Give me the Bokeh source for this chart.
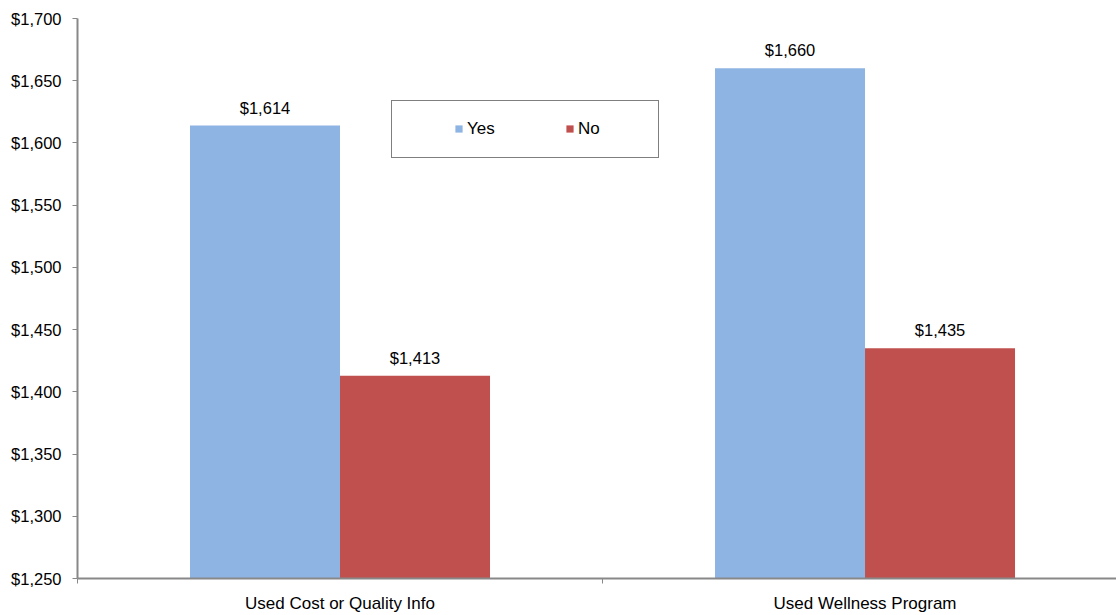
from bokeh.plotting import figure
from bokeh.models import (Range1d, FixedTicker, NumeralTickFormatter, ColumnDataSource,
                          LabelSet, Legend, LegendItem)
from bokeh.core.properties import value
from bokeh.transform import dodge
from bokeh.embed import file_html
from bokeh.resources import INLINE

# ---- data ----
categories = ["Used Cost or Quality Info", "Used Wellness Program"]
series = ["Yes", "No"]
yes_values = [1614, 1660]
no_values = [1413, 1435]
y_ticks = [1250, 1300, 1350, 1400, 1450, 1500, 1550, 1600, 1650, 1700]

# ---- style ----
BLUE = "#8EB4E3"
RED = "#C0504D"
AXIS = "#888888"
FONT = "Liberation Sans"
FS = "16.5px"
FSX = "17px"

positions = [i + 0.5 for i in range(len(categories))]
src = ColumnDataSource(dict(
    pos=positions,
    yes=yes_values,
    no=no_values,
    yes_lbl=[f"${v:,.0f}" for v in yes_values],
    no_lbl=[f"${v:,.0f}" for v in no_values],
))

p = figure(width=1116, height=615,
           x_range=Range1d(0, 1.979), y_range=Range1d(y_ticks[0], y_ticks[-1]),
           output_backend="svg", toolbar_location=None,
           min_border_left=77, min_border_right=0, min_border_top=18, min_border_bottom=36)
p.outline_line_color = None
p.xgrid.visible = False
p.ygrid.visible = False
p.background_fill_color = "white"

bw = 2 / 7
r_yes = p.vbar(x=dodge("pos", -bw / 2), top="yes", bottom=y_ticks[0], width=bw,
               source=src, fill_color=BLUE, line_color=None)
r_no = p.vbar(x=dodge("pos", bw / 2), top="no", bottom=y_ticks[0], width=bw,
              source=src, fill_color=RED, line_color=None)

for col, lbl, off in (("yes", "yes_lbl", -bw / 2), ("no", "no_lbl", bw / 2)):
    ls = LabelSet(x=dodge("pos", off), y=col, text=lbl, source=src,
                  text_align="center", text_baseline="alphabetic", y_offset=12,
                  text_font=value(FONT), text_font_size=value(FS), text_color="#000000")
    p.add_layout(ls)

# y axis
ya = p.yaxis[0]
ya.ticker = FixedTicker(ticks=y_ticks)
ya.formatter = NumeralTickFormatter(format="$0,0")
ya.axis_line_color = AXIS
ya.axis_line_width = 2
ya.major_tick_line_color = AXIS
ya.major_tick_out = 5
ya.major_tick_in = 0
ya.minor_tick_line_color = None
ya.major_label_standoff = 11
ya.major_label_text_font = FONT
ya.major_label_text_font_size = FS
ya.major_label_text_color = "#000000"

# x axis: labels at category centres, tick marks at category boundaries
xa = p.xaxis[0]
xa.ticker = FixedTicker(ticks=positions, minor_ticks=[0, 1, 2])
xa.major_label_overrides = {pos: cat for pos, cat in zip(positions, categories)}
xa.axis_line_color = AXIS
xa.axis_line_width = 2
xa.major_tick_line_color = None
xa.major_tick_out = 0
xa.major_tick_in = 0
xa.minor_tick_line_color = AXIS
xa.minor_tick_out = 5
xa.minor_tick_in = 0
xa.major_label_standoff = 10
xa.major_label_text_font = FONT
xa.major_label_text_font_size = FSX
xa.major_label_text_color = "#000000"

legend = Legend(items=[LegendItem(label=series[0], renderers=[r_yes]),
                       LegendItem(label=series[1], renderers=[r_no])],
                orientation="horizontal", location=(314, 420.5),
                padding=18, spacing=36, label_width=62, label_height=19,
                glyph_width=9, glyph_height=9, label_standoff=4,
                label_text_font=FONT, label_text_font_size=FSX, label_text_color="#000000",
                border_line_color="#000000", border_line_width=1,
                background_fill_color="white", background_fill_alpha=1,
                title=" ", title_location="left", title_text_font_size="1px",
                title_standoff=43, margin=0)
p.add_layout(legend)

open("out.html", "w").write(file_html(p, INLINE))
